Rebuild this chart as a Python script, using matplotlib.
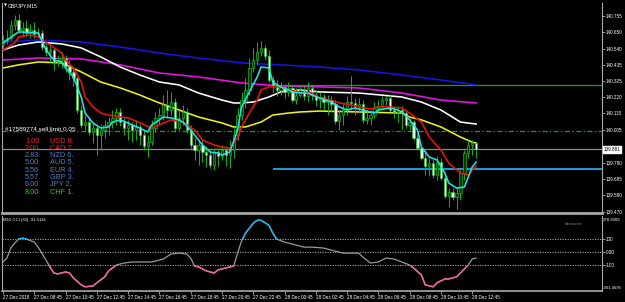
import numpy as np
import matplotlib as mpl
mpl.use('Agg')
import matplotlib.pyplot as plt
import matplotlib.patches as mpatches

# GBPJPY M15 candles, 27 Dec 2018 06:45 .. 28 Dec 2018 13:15
opens = [140.563, 140.596, 140.609, 140.694, 140.727, 140.662, 140.675, 140.642, 140.662, 140.635,
         140.642, 140.550, 140.518, 140.531, 140.452, 140.465, 140.478, 140.426, 140.387, 140.347,
         140.138, 140.040, 140.059, 139.994, 140.020, 139.974, 140.007, 140.040, 140.059, 140.086,
         140.125, 140.059, 140.020, 140.040, 140.007, 140.027, 139.974, 139.902, 139.928, 140.020,
         140.086, 140.105, 140.171, 140.138, 140.190, 140.020, 140.086, 140.125, 140.007, 139.909,
         139.876, 139.909, 139.863, 139.843, 139.778, 139.863, 139.837, 139.876, 139.843, 139.876,
         139.974, 140.105, 140.203, 140.269, 140.413, 140.465, 140.518, 140.544, 140.491, 140.334,
         140.302, 140.269, 140.289, 140.256, 140.282, 140.203, 140.236, 140.269, 140.230, 140.282,
         140.236, 140.203, 140.223, 140.190, 140.203, 140.177, 140.066, 140.105, 140.138, 140.190,
         140.184, 140.164, 140.177, 140.073, 140.086, 140.105, 140.151, 140.164, 140.203, 140.216,
         140.138, 140.125, 140.138, 140.118, 140.040, 140.059, 139.955, 139.889, 139.824, 139.771,
         139.791, 139.712, 139.797, 139.693, 139.575, 139.601, 139.568, 139.595, 139.726, 139.856,
         139.909, 139.922]
highs = [140.629, 140.662, 140.727, 140.760, 140.766, 140.714, 140.727, 140.701, 140.714, 140.675,
         140.662, 140.583, 140.570, 140.544, 140.498, 140.518, 140.498, 140.465, 140.413, 140.361,
         140.171, 140.105, 140.086, 140.059, 140.040, 140.046, 140.073, 140.092, 140.138, 140.151,
         140.151, 140.086, 140.073, 140.059, 140.073, 140.046, 140.007, 139.974, 140.073, 140.125,
         140.151, 140.236, 140.269, 140.256, 140.216, 140.138, 140.171, 140.151, 140.040, 139.955,
         139.942, 139.942, 139.902, 139.876, 139.889, 139.889, 139.909, 139.902, 139.942, 140.020,
         140.151, 140.256, 140.347, 140.478, 140.544, 140.583, 140.590, 140.563, 140.531, 140.361,
         140.334, 140.321, 140.308, 140.321, 140.302, 140.282, 140.302, 140.295, 140.321, 140.302,
         140.269, 140.256, 140.243, 140.236, 140.230, 140.203, 140.138, 140.177, 140.230, 140.361,
         140.216, 140.216, 140.203, 140.138, 140.138, 140.190, 140.203, 140.230, 140.230, 140.236,
         140.164, 140.164, 140.164, 140.138, 140.086, 140.073, 139.981, 139.909, 139.876, 139.824,
         139.811, 139.837, 139.824, 139.712, 139.627, 139.627, 139.627, 139.745, 139.876, 139.942,
         139.942, 139.928]
lows = [140.544, 140.570, 140.596, 140.662, 140.642, 140.622, 140.622, 140.609, 140.609, 140.616,
        140.531, 140.491, 140.452, 140.400, 140.426, 140.413, 140.387, 140.334, 140.295, 140.118,
        140.020, 140.007, 139.974, 139.922, 139.843, 139.876, 139.955, 139.974, 140.020, 140.040,
        140.033, 139.974, 139.942, 139.928, 139.942, 139.909, 139.876, 139.830, 139.909, 139.994,
        140.040, 140.073, 140.086, 140.105, 139.994, 140.007, 140.040, 139.987, 139.876, 139.811,
        139.778, 139.797, 139.765, 139.758, 139.745, 139.771, 139.811, 139.771, 139.758, 139.824,
        139.942, 140.073, 140.151, 140.236, 140.387, 140.433, 140.491, 140.465, 140.321, 140.256,
        140.230, 140.236, 140.216, 140.230, 140.190, 140.177, 140.223, 140.203, 140.190, 140.203,
        140.164, 140.151, 140.138, 140.105, 140.125, 140.046, 140.007, 140.040, 140.105, 140.138,
        140.105, 140.125, 140.053, 140.046, 140.040, 140.086, 140.125, 140.138, 140.171, 140.125,
        140.086, 140.059, 140.007, 140.020, 140.007, 139.942, 139.876, 139.811, 139.712, 139.706,
        139.693, 139.680, 139.680, 139.562, 139.503, 139.549, 139.490, 139.549, 139.680, 139.824,
        139.843, 139.824]
closes = [140.596, 140.609, 140.694, 140.727, 140.662, 140.675, 140.642, 140.662, 140.635, 140.642,
          140.550, 140.518, 140.531, 140.452, 140.465, 140.478, 140.426, 140.387, 140.347, 140.138,
          140.040, 140.059, 139.994, 140.020, 139.974, 140.007, 140.040, 140.059, 140.086, 140.125,
          140.059, 140.020, 140.040, 140.007, 140.027, 139.974, 139.902, 139.928, 140.020, 140.086,
          140.105, 140.171, 140.138, 140.190, 140.020, 140.086, 140.125, 140.007, 139.909, 139.876,
          139.909, 139.863, 139.843, 139.778, 139.863, 139.837, 139.876, 139.843, 139.876, 139.974,
          140.105, 140.203, 140.269, 140.413, 140.465, 140.518, 140.544, 140.491, 140.334, 140.302,
          140.269, 140.289, 140.256, 140.282, 140.203, 140.236, 140.269, 140.230, 140.282, 140.236,
          140.203, 140.223, 140.190, 140.203, 140.177, 140.066, 140.105, 140.138, 140.190, 140.184,
          140.164, 140.177, 140.073, 140.086, 140.105, 140.151, 140.164, 140.203, 140.216, 140.138,
          140.125, 140.138, 140.118, 140.040, 140.059, 139.955, 139.889, 139.824, 139.771, 139.791,
          139.712, 139.797, 139.693, 139.575, 139.601, 139.568, 139.595, 139.726, 139.856, 139.909,
          139.922, 139.881]

# moving averages (bar index, price)
cyan_bars = [0, 4, 9, 11, 13, 15, 16, 18, 20, 21, 23, 25, 27, 28, 30, 32, 33, 35, 37, 38,
             40, 41, 43, 45, 46, 48, 50, 51, 53, 55, 56, 58, 60, 61, 63, 65, 66, 68, 69, 71,
             73, 74, 76, 78, 79, 81, 84, 86, 88, 90, 92, 95, 96, 99, 101, 102, 104, 106, 107, 109,
             111, 113, 114, 116, 118, 119, 120, 121]
cyan_vals = [140.577, 140.649, 140.642, 140.531, 140.465, 140.452, 140.413, 140.354, 140.223, 140.118,
             140.053, 140.020, 140.027, 140.059, 140.073, 140.053, 140.040, 140.020, 139.994, 140.040,
             140.073, 140.092, 140.086, 140.073, 140.059, 140.007, 139.942, 139.909, 139.863, 139.856,
             139.843, 139.863, 140.007, 140.158, 140.256, 140.354, 140.419, 140.413, 140.321, 140.289,
             140.269, 140.256, 140.249, 140.249, 140.236, 140.216, 140.190, 140.158, 140.138, 140.151,
             140.138, 140.118, 140.138, 140.151, 140.138, 140.125, 140.073, 140.007, 139.896, 139.830,
             139.811, 139.726, 139.660, 139.627, 139.634, 139.699, 139.765, 139.797]
red_bars = [0, 3, 4, 7, 9, 12, 15, 16, 18, 20, 21, 23, 25, 27, 30, 32, 35, 38, 40, 41,
            43, 46, 49, 51, 54, 56, 58, 60, 61, 63, 65, 66, 68, 71, 73, 76, 79, 81, 84, 86,
            89, 91, 94, 96, 99, 102, 104, 107, 109, 112, 114, 117, 119, 120, 121]
red_vals = [140.531, 140.577, 140.616, 140.629, 140.616, 140.563, 140.511, 140.465, 140.413, 140.321,
            140.223, 140.158, 140.118, 140.105, 140.092, 140.086, 140.053, 140.020, 140.040, 140.053,
            140.073, 140.059, 140.007, 139.942, 139.909, 139.896, 139.889, 139.955, 140.027, 140.118,
            140.203, 140.269, 140.289, 140.289, 140.269, 140.256, 140.249, 140.216, 140.203, 140.184,
            140.171, 140.158, 140.145, 140.158, 140.158, 140.151, 140.118, 140.059, 139.961, 139.876,
            139.791, 139.726, 139.712, 139.745, 139.771]
yellow_bars = [0, 4, 9, 15, 20, 25, 30, 35, 40, 45, 50, 56, 59, 62, 66, 69, 73, 76, 81, 91,
               102, 104, 107, 112, 117, 120, 121]
yellow_vals = [140.413, 140.433, 140.452, 140.446, 140.387, 140.321, 140.282, 140.236, 140.184, 140.138,
               140.092, 140.053, 140.027, 140.027, 140.059, 140.105, 140.118, 140.125, 140.131, 140.125,
               140.118, 140.092, 140.073, 140.027, 139.961, 139.928, 139.922]
white_bars = [0, 4, 9, 15, 20, 25, 30, 35, 40, 45, 50, 56, 59, 61, 64, 68, 71, 76, 81, 91,
              102, 107, 112, 117, 121]
white_vals = [140.531, 140.563, 140.583, 140.570, 140.544, 140.485, 140.419, 140.367, 140.321, 140.302,
              140.249, 140.203, 140.184, 140.184, 140.190, 140.223, 140.256, 140.269, 140.256, 140.249,
              140.223, 140.190, 140.138, 140.059, 140.046]
slow_bars = [0, 9, 20, 30, 40, 50, 61, 71, 81, 91, 102, 112, 121]
magenta_vals = [140.465, 140.478, 140.472, 140.433, 140.380, 140.354, 140.315, 140.295, 140.289, 140.282,
                140.249, 140.203, 140.184]
blue_vals = [140.583, 140.596, 140.583, 140.550, 140.511, 140.478, 140.446, 140.433, 140.419, 140.400,
             140.367, 140.334, 140.302]

# CCI(30)
cci_bars = [0, 1, 2, 3, 4, 5, 6, 8, 9, 11, 12, 13, 14, 16, 17, 18, 20, 21, 23, 24,
            26, 27, 29, 31, 33, 37, 38, 41, 43, 45, 47, 48, 49, 50, 52, 54, 55, 57, 59, 60,
            61, 62, 64, 65, 66, 68, 69, 70, 72, 74, 77, 79, 82, 84, 87, 91, 92, 94, 96, 98,
            100, 102, 104, 105, 107, 108, 110, 111, 113, 114, 116, 117, 119, 120, 121]
cci_vals = [-77, -46, 31, 69, 100, 108, 100, 77, 38, -62, -115, -162, -169, -154, -162, -200, -254, -269, -262, -238,
            -192, -146, -100, -85, -77, -77, -77, -54, -15, -8, -15, -46, -108, -115, -146, -162, -138, -123, -108, -8,
            85, 146, 223, 246, 246, 208, 146, 100, 77, 62, 38, 38, 31, 15, -8, -8, -38, -85, -77, -46,
            -54, -77, -100, -123, -177, -254, -269, -238, -208, -208, -192, -162, -100, -54, -46]

price_ticks = [140.755, 140.650, 140.540, 140.435, 140.325, 140.220, 140.115, 140.005,
               139.790, 139.685, 139.580, 139.470]
time_labels = ['27 Dec 2018', '27 Dec 08:45', '27 Dec 10:45', '27 Dec 12:45', '27 Dec 14:45',
               '27 Dec 16:45', '27 Dec 18:45', '27 Dec 20:45', '27 Dec 22:45', '28 Dec 00:45',
               '28 Dec 02:45', '28 Dec 04:45', '28 Dec 06:45', '28 Dec 08:45', '28 Dec 10:45',
               '28 Dec 12:45']
strength_vals = ['1.00', '2.00', '2.83', '5.00', '5.56', '5.57', '6.00', '8.00']
strength_ccy = ['USD 8.', 'CAD 7.', 'NZD 6.', 'AUD 5.', 'EUR 4.', 'GBP 3.', 'JPY 2.', 'CHF 1.']
strength_col = ['#e8283c', '#e8283c', '#4f80c0', '#4f80c0', '#4f80c0', '#4f80c0', '#4f80c0', '#32c832']

bid = 139.881
sell_limit = 140.002
blue_level = 139.752
green_level = 140.300
level_start = 69

sans = ['Liberation Sans', 'DejaVu Sans']
grid_col = '#a8a8a8'
lab_fs = 3.3

fig = plt.figure(figsize=(6.25, 3.02), dpi=100, facecolor='black')
ax = fig.add_axes([0.0032, 0.2947, 0.96, 0.6954], facecolor='black')
ax2 = fig.add_axes([0.0032, 0.0364, 0.96, 0.2483], facecolor='black', sharex=ax)

xmax = 153.2
ax.set_xlim(-0.26, xmax)
ax.set_ylim(139.464, 140.838)

# candles
o = np.array(opens); h = np.array(highs); l = np.array(lows); c = np.array(closes)
bars = np.arange(len(c))
ax.vlines(bars, l, h, color='#14b414', lw=0.7, zorder=3)
bull = c >= o
body = np.maximum(np.abs(c - o), 0.003)
ax.bar(bars[bull], body[bull], bottom=np.minimum(o, c)[bull], width=0.6,
       color='#063806', edgecolor='#1ec81e', lw=0.45, zorder=4)
ax.bar(bars[~bull], body[~bull], bottom=np.minimum(o, c)[~bull], width=0.6,
       color='white', edgecolor='#1ec81e', lw=0.45, zorder=4)

# moving averages
ax.plot(slow_bars, blue_vals, color='#1414e6', lw=1.15, zorder=2)
ax.plot(slow_bars, magenta_vals, color='#e614e6', lw=1.15, zorder=2)
ax.plot(white_bars, white_vals, color='white', lw=1.15, zorder=2)
ax.plot(yellow_bars, yellow_vals, color='#f0f014', lw=1.15, zorder=2)
ax.plot(red_bars, red_vals, color='#f01010', lw=1.15, zorder=5)
ax.plot(cyan_bars, cyan_vals, color='#19e6e6', lw=1.15, zorder=6)

# horizontal levels
ax.axhline(bid, color='#8c8c8c', lw=0.9, zorder=1)
ax.axhline(sell_limit, color='#1e9b1e', lw=0.9, ls=(0, (4, 2, 1, 2)), zorder=1)
ax.hlines(blue_level, level_start, xmax, color='#14a0dc', lw=1.4, zorder=1)
ax.hlines(green_level, level_start, xmax, color='#1e9b1e', lw=0.9, zorder=1)

for sp in ['left', 'right']:
    ax.spines[sp].set_color(grid_col)
    ax.spines[sp].set_linewidth(0.8)
ax.spines['top'].set_visible(False)
ax.spines['bottom'].set_color(grid_col)
ax.spines['bottom'].set_linewidth(2.0)
ax.yaxis.tick_right()
ax.set_yticks(price_ticks)
ax.set_yticklabels(['%.3f' % v for v in price_ticks], fontsize=lab_fs, color='white', family=sans)
ax.tick_params(axis='y', length=2, width=0.6, color=grid_col, pad=1)
ax.tick_params(axis='x', bottom=False, labelbottom=False)

ax.text(1.003, bid, '%.3f' % bid, transform=ax.get_yaxis_transform(), fontsize=lab_fs,
        family=sans, color='black', va='center', ha='left', zorder=10, clip_on=False,
        bbox=dict(boxstyle='square,pad=0.2', facecolor='white', edgecolor='white'))

# CCI panel
ax2.set_ylim(-301.4695, 278.9009)
for lvl in [100, 0, -100]:
    ax2.axhline(lvl, color='#b4b4b4', lw=0.6, ls=(0, (1.5, 1.5)), zorder=1)
cx = np.array(cci_bars); cy = np.array(cci_vals)
ax2.plot(cx, cy, color='#9a9a9a', lw=0.9, zorder=2)
up = ax2.plot(cx, cy, color='#1eb4f0', lw=1.1, zorder=3)[0]
up.set_clip_path(mpatches.Rectangle((-5, 100), 200, 400, transform=ax2.transData))
dn = ax2.plot(cx, cy, color='#f0649a', lw=1.1, zorder=3)[0]
dn.set_clip_path(mpatches.Rectangle((-5, -500), 200, 400, transform=ax2.transData))

for sp in ['left', 'right', 'bottom']:
    ax2.spines[sp].set_color(grid_col)
    ax2.spines[sp].set_linewidth(0.8)
ax2.spines['bottom'].set_linewidth(1.2)
ax2.spines['top'].set_visible(False)
ax2.yaxis.tick_right()
ax2.set_yticks([100, 0, -100])
ax2.set_yticklabels(['100', '0.00', '-100'], fontsize=lab_fs, color='white', family=sans)
ax2.tick_params(axis='y', length=2, width=0.6, color=grid_col, pad=1)
ax2.text(1.002, 0.975, '278.9009', transform=ax2.transAxes, fontsize=3.1, family=sans,
         color='white', va='top', ha='left')
ax2.text(1.002, 0.02, '-301.4695', transform=ax2.transAxes, fontsize=3.1, family=sans,
         color='white', va='bottom', ha='left')

ax2.set_xticks(np.arange(0, 121, 8))
ax2.set_xticklabels(time_labels, fontsize=lab_fs, color='white', family=sans)
for lbl in ax2.get_xticklabels():
    lbl.set_ha('left')
ax2.tick_params(axis='x', length=2, width=0.6, color=grid_col, pad=1)

# overlay texts
W, H = 625.0, 302.0
fig.text(3.5 / W, 1 - 5.5 / H, '\u25bc', fontsize=2.8, color='white', va='center', family='DejaVu Sans')
fig.text(8 / W, 1 - 5.5 / H, 'GBPJPY,M15', fontsize=3.6, color='white', va='center', family=sans)
fig.text(5 / W, 1 - 129 / H, '#17589774 sell limit 0.05', fontsize=4.6, color='white', va='center', family=sans)
fig.text(3 / W, 1 - 219.5 / H, 'M15 CCI (30) -31.5114', fontsize=3.1, color='white', va='center', family=sans)
fig.text(565 / W, 1 - 224 / H, 'fxdreema.com', fontsize=2.0, color='#9a9a9a', va='center', family=sans)

row_y = [141, 148.3, 155.7, 162.7, 170, 177.3, 184.7, 192]
for yy, v, ccy, col in zip(row_y, strength_vals, strength_ccy, strength_col):
    fig.text(25 / W, 1 - yy / H, v, fontsize=5.3, color=col, va='center', family=sans)
    fig.text(50 / W, 1 - yy / H, ccy, fontsize=5.3, color=col, va='center', family=sans)

fig.savefig('out.png', dpi=100, facecolor='black')
